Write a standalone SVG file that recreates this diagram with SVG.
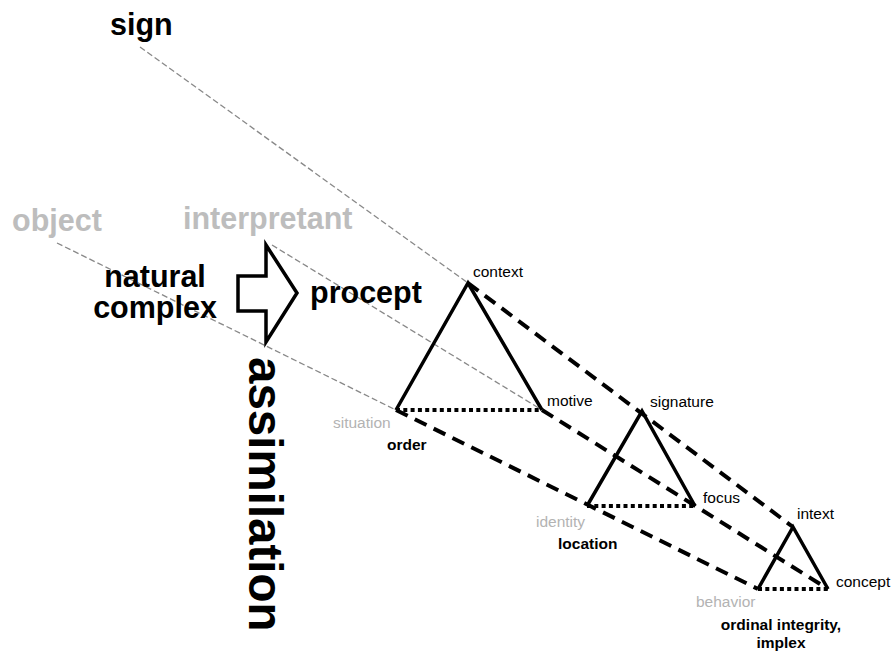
<svg xmlns="http://www.w3.org/2000/svg" width="891" height="652" viewBox="0 0 891 652">
<style>
text{font-family:"Liberation Sans",Arial,sans-serif}
.big{font-size:30.5px;font-weight:bold}
.dark{fill:#000}
.grey{fill:#bdbdbd}
.sm{font-size:15.5px;fill:#000}
.smg{font-size:15.5px;fill:#b3b3b3}
.smb{font-size:15.5px;font-weight:bold;fill:#000}
.thin{stroke:#888;stroke-width:1.3;stroke-dasharray:6,3;fill:none}
.thick{stroke:#000;stroke-width:4;stroke-dasharray:13,8;fill:none}
.side{stroke:#000;stroke-width:3.5;fill:none;stroke-linejoin:miter}
.dot{stroke:#000;stroke-width:4;stroke-dasharray:4,3.3;fill:none}
</style>
<rect width="891" height="652" fill="#fff"/>
<g id="connectors">
<line class="thin" x1="140" y1="47" x2="468" y2="283"/>
<line class="thin" x1="272" y1="245" x2="542" y2="410"/>
<line class="thin" x1="57" y1="243" x2="396" y2="410"/>
<line class="thick" x1="468" y1="283" x2="793" y2="527"/>
<line class="thick" x1="542" y1="410" x2="828" y2="589"/>
<line class="thick" x1="396" y1="410" x2="758" y2="589"/>
</g>
<g id="labels-top">
<text class="big dark" x="110" y="35">sign</text>
<text class="big grey" x="12" y="231">object</text>
<text class="big grey" x="183" y="229">interpretant</text>
<text class="big dark" x="155" y="287" text-anchor="middle">natural</text>
<text class="big dark" x="155" y="318" text-anchor="middle">complex</text>
<text class="big dark" x="310" y="303">procept</text>
<text class="dark" transform="translate(249,357) rotate(90)" style="font-size:47.5px;font-weight:bold">assimilation</text>
</g>
<g id="arrow">
<polygon points="238,276 266,276 266,245 297,293 266,342 266,311 238,311" fill="#fff" stroke="#000" stroke-width="3.5" stroke-linejoin="miter"/>
</g>
<g id="triangle1">
<polyline class="side" points="396,410 468,283 542,410"/>
<line class="dot" x1="396" y1="410" x2="542" y2="410"/>
<text class="sm" x="473" y="277">context</text>
<text class="sm" x="547" y="406">motive</text>
<text class="smg" x="333" y="428">situation</text>
<text class="smb" x="387" y="450">order</text>
</g>
<g id="triangle2">
<polyline class="side" points="587,506 642,411 695,506"/>
<line class="dot" x1="587" y1="506" x2="695" y2="506"/>
<text class="sm" x="650" y="407">signature</text>
<text class="sm" x="703" y="503">focus</text>
<text class="smg" x="536" y="527">identity</text>
<text class="smb" x="558" y="549">location</text>
</g>
<g id="triangle3">
<polyline class="side" points="758,589 793,527 828,589"/>
<line class="dot" x1="758" y1="589" x2="828" y2="589"/>
<text class="sm" x="797" y="519">intext</text>
<text class="sm" x="836" y="587">concept</text>
<text class="smg" x="696" y="607">behavior</text>
<text class="smb" x="781" y="630" text-anchor="middle">ordinal integrity,</text>
<text class="smb" x="781" y="648" text-anchor="middle">implex</text>
</g>
</svg>
